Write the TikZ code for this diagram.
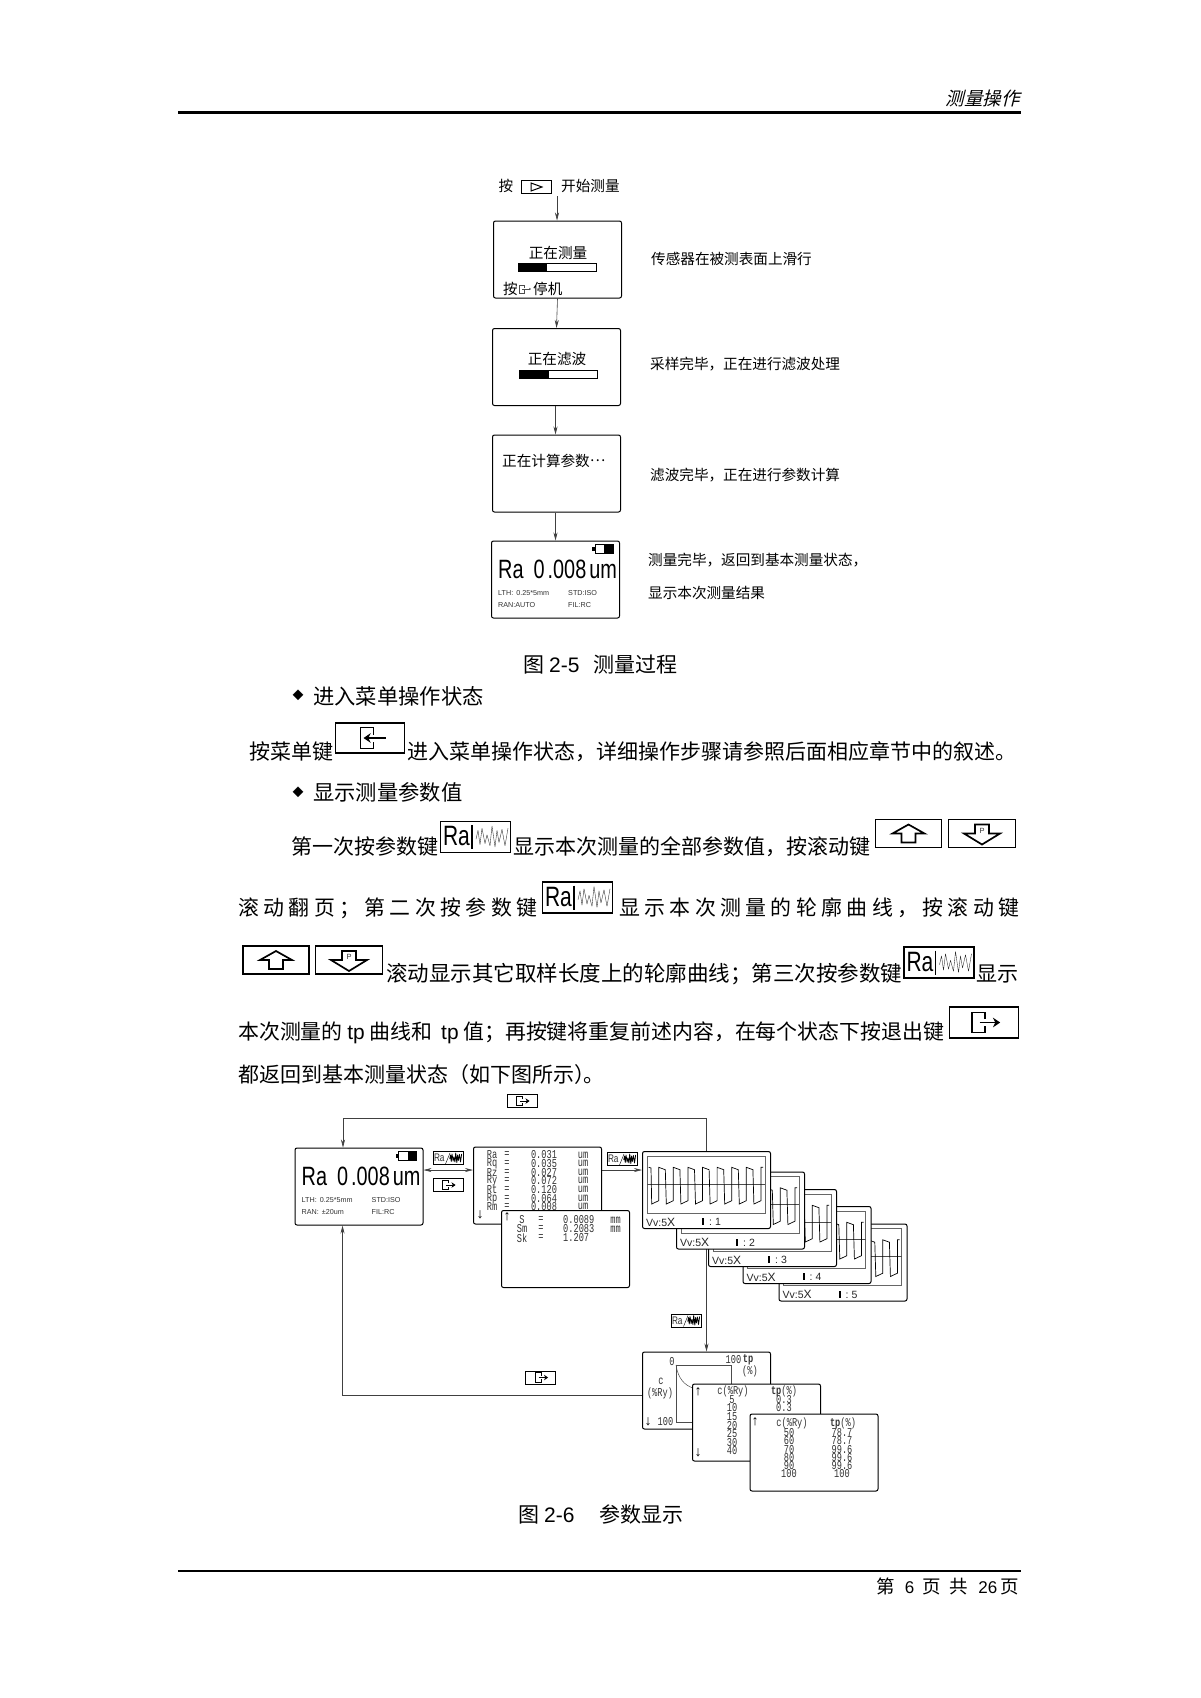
\documentclass[tikz,border=0pt]{standalone}
\usepackage{fontspec}
\setmainfont{Liberation Sans}
\newfontfamily\cjk{Noto Sans CJK SC}
\newfontfamily\cjkslant[FakeSlant=0.25]{Noto Sans CJK SC}
\newfontfamily\latnar[FakeStretch=0.75]{Liberation Sans}
\newfontfamily\mono[FakeStretch=0.72]{Liberation Mono}
\usetikzlibrary{arrows.meta,backgrounds}
\newcommand{\fsz}[1]{\fontsize{#1}{#1}\selectfont}
\newcommand{\ls}[2]{{\addfontfeature{LetterSpace=#1}#2}}

\tikzset{
  screen/.style={draw,line width=1pt,rounded corners=2pt,fill=white,minimum width=128pt,minimum height=77pt,inner sep=0pt},
  bigkey/.style={draw,line width=1.1pt,fill=white,minimum width=69pt,minimum height=30pt,inner sep=0pt},
  smallkey/.style={draw,line width=.9pt,fill=white,minimum width=30pt,minimum height=13pt,inner sep=0pt},
  gauge/.style={draw,line width=.4pt,minimum width=78pt,minimum height=8pt,inner sep=0pt},
  conn/.style={->,line width=.6pt,black!75},
  side/.style={font=\cjk\fsz{14.6},inner sep=0pt,anchor=west},
  midtxt/.style={font=\cjk\fsz{14.6},inner sep=0pt},
  body/.style={font=\cjk\fsz{21},inner sep=0pt,anchor=west},
  lcd/.style={font=\fsz{7.2},inner sep=0pt,anchor=west,text=black!80},
  monotxt/.style={font=\mono\fsz{12},inner sep=0pt,text=black!80},
  arrowtxt/.style={inner sep=0pt,font=\fsz{14}},
  exiticon/.pic={
    \draw (1.5,-3.5) -- (1.5,-10) -- (-11.5,-10) -- (-11.5,10) -- (1.5,10) -- (1.5,3.5);
    \draw[-{Stealth[length=0pt 4.5,width=0pt 6]}] (-4,0) -- (16.5,0);},
  menuicon/.pic={
    \draw (3.5,-3.5) -- (3.5,-10.5) -- (-9.5,-10.5) -- (-9.5,10.5) -- (3.5,10.5) -- (3.5,3.5);
    \draw[-{Stealth[length=0pt 4.5,width=0pt 6]}] (15.5,0) -- (-6.5,0);},
  squiggle/.pic={
    \draw[line join=round] (-16,2) -- (-14,-6) -- (-12,7) -- (-10,-8) -- (-7,6) -- (-5,-2) -- (-2,8)
      -- (0,-10) -- (3,9) -- (5,-6) -- (7,5) -- (10,-7) -- (13,8) -- (16,-8);}
}

%% keys used in the running text and in the chart
\newcommand{\rabig}[2]{%
  \node[bigkey,minimum width=70pt,minimum height=31pt] (#1) at (#2) {};
  \begin{scope}[shift={(#1.center)}]
    \node[inner sep=0pt,font=\latnar\fsz{28}] (#1ra) at (-19,-1) {Ra};
    \draw[line width=1.3pt] (-3.5,-12) -- (-3.5,12);
    \pic[yscale=1.1,line width=.35pt,black!85] at (16.5,0) {squiggle};
  \end{scope}}
\newcommand{\rasmall}[2]{%
  \node[smallkey] (#1) at (#2) {};
  \begin{scope}[shift={(#1.center)}]
    \node[inner sep=0pt,font=\latnar\fsz{11},text=black!80] (#1ra) at (-8.7,0) {Ra};
    \draw[line width=.4pt] (-2.5,6) -- (2,-5);
    \pic[xscale=.37,yscale=.5,line width=.8pt] at (7.7,0) {squiggle};
  \end{scope}}
\newcommand{\exitsmall}[2]{%
  \node[smallkey] (#1) at (#2) {};
  \pic[scale=.46,line width=.9pt] at (#1.center) {exiticon};}
\newcommand{\upkey}[2]{%
  \node[bigkey,minimum width=66pt,minimum height=28pt] (#1) at (#2) {};
  \begin{scope}[shift={(#1.center)}]
    \draw[line width=1.7pt,line join=miter] (0,-9) -- (16,0) -- (7,0) -- (7,9) -- (-7,9) -- (-7,0) -- (-16,0) -- cycle;
  \end{scope}}
\newcommand{\downkey}[2]{%
  \node[bigkey,minimum width=67pt,minimum height=28pt] (#1) at (#2) {};
  \begin{scope}[shift={(#1.center)}]
    \draw[line width=1.7pt,line join=miter] (-7,-9) -- (7,-9) -- (7,0) -- (18,0) -- (0,11) -- (-18,0) -- (-7,0) -- cycle;
    \node[inner sep=0pt,font=\fsz{7.5},text=black!80] (#1p) at (0,-3) {P};
  \end{scope}}
%% the result screen shown twice
\newcommand{\resultscreen}[3]{%
  \node[screen] (#1) at (#2) {};
  \begin{scope}[shift={(#1.north west)}]
    \draw[line width=.6pt] (104,4) rectangle (122,13);
    \fill (113,4) rectangle (122,13);
    \fill (101,6.5) rectangle (104,10.5);
    \node[anchor=base west,inner sep=0pt,font=\latnar\fsz{26.5}] (#1val) at (7,38)
      {Ra\hspace*{10pt}0\hspace*{3pt}.008\hspace*{3pt}um};
    \node[lcd] (#1lth) at (7,52.5) {LTH:\hspace*{3pt}0.25*5mm};
    \node[lcd] (#1std) at (77,52.5) {STD:ISO};
    \node[lcd] (#1ran) at (7,64.5) {#3};
    \node[lcd] (#1fil) at (77,64.5) {FIL:RC};
  \end{scope}}

\begin{document}
\begin{tikzpicture}[x=1pt,y=-1pt,>={Stealth[length=8pt,width=4pt]}]
\useasboundingbox (0,0) rectangle (1200,1698);

%% page head and foot
\node[anchor=east,inner sep=0pt,font=\cjkslant\fsz{18.5}] (headtxt) at (1020,98) {测量操作};
\draw[line width=3pt] (178,112.5) -- (1021,112.5);
\draw[line width=1.2pt] (178,1571) -- (1021,1571);
\node[anchor=east,inner sep=0pt,font=\cjk\fsz{18.5}] (foottxt) at (1019,1586)
  {第\hspace*{10pt}{\rmfamily\fsz{17}6}\hspace*{8pt}页\hspace*{9pt}共\hspace*{10pt}{\rmfamily\fsz{17}26}\hspace*{3pt}页};

%% measuring steps
\node[midtxt] (press) at (506,186) {按};
\node[smallkey,line width=1pt] (playkey) at (536,186.5) {};
\draw[line width=1pt] (531,183) -- (542,187) -- (531,191) -- cycle;
\node[side] (starttxt) at (561,186) {开始测量};
\coordinate (startpt) at (557,196);

\node[screen] (box1) at (557.5,259.5) {};
\node[midtxt] (box1txt) at (558,253) {正在测量};
\node[gauge] (bar1) at (557,267) {};
\fill (bar1.north west) rectangle ++(29,8);
\node[side] (stoptxt) at (503,289) {按};
\pic[scale=.42,line width=.4pt,black!70] at (524,289) {exiticon};
\node[side] (stoptxt2) at (533,289) {停机};
\node[side] (note1) at (651,259) {传感器在被测表面上滑行};

\node[screen] (box2) at (556.5,367) {};
\node[midtxt] (box2txt) at (557,359) {正在滤波};
\node[gauge] (bar2) at (558,374) {};
\fill (bar2.north west) rectangle ++(30,8);
\node[side] (note2) at (650,364) {采样完毕，正在进行滤波处理};

\node[screen] (box3) at (556.5,473.5) {};
\node[side] (box3txt) at (502,461) {正在计算参数\raisebox{.32em}{…}};
\node[side] (note3) at (650,475) {滤波完毕，正在进行参数计算};

\resultscreen{box4}{555.5,579.5}{RAN:AUTO}
\node[side] (note4) at (648,560) {测量完毕，返回到基本测量状态，};
\node[side] (note5) at (648,593) {显示本次测量结果};

\draw[conn] (startpt) -- (startpt |- box1.north);
\draw[conn] (box1.south) -- (box2.north);
\draw[conn] (box4.north |- box2.south) -- (box4.north |- box3.north);
\draw[conn] (box4.north |- box3.south) -- (box4.north);

\node[body] (cap5) at (523,665)
  {图\hspace*{5pt}{\rmfamily 2-5}\hspace*{14pt}测量过程};

%% running text
\node[inner sep=0pt,font=\cjk\fsz{11}] (bul1) at (298,695) {◆};
\node[body,font=\cjk\fsz{21.3}] (line1) at (313,696) {进入菜单操作状态};
\node[body] (line2a) at (249,752) {按菜单键};
\node[bigkey] (menukey) at (370,738) {};
\pic[line width=1.6pt] at (menukey.center) {menuicon};
\node[body] (line2b) at (407.5,752) {进入菜单操作状态，详细操作步骤请参照后面相应章节中的叙述。};
\node[inner sep=0pt,font=\cjk\fsz{11}] (bul2) at (298,792) {◆};
\node[body,font=\cjk\fsz{21.3}] (line3) at (313,792) {显示测量参数值};

\node[body] (line4a) at (291,847) {第一次按参数键};
\rabig{rakey1}{475.5,837}
\node[body] (line4b) at (513,847) {显示本次测量的全部参数值，按滚动键};
\upkey{upkey1}{908.5,833.5}
\downkey{downkey1}{982,833.5}

\node[body,font=\cjk\fsz{20.9}] (line5a) at (238,908) {\ls{21}{滚动翻页；第二次按参数键}};
\rabig{rakey2}{577.5,897.5}
\node[body,font=\cjk\fsz{20.9}] (line5b) at (619,908) {\ls{21}{显示本次测量的轮廓曲线，按滚动键}};

\upkey{upkey2}{276,960}
\downkey{downkey2}{349,960}
\node[body,font=\cjk\fsz{21.5}] (line6a) at (386,974) {滚动显示其它取样长度上的轮廓曲线；第三次按参数键};
\rabig{rakey3}{939,962.5}
\node[body] (line6b) at (976.5,974) {显示};

\node[body,font=\cjk\fsz{20.9}] (line7) at (238,1033) {本次测量的 {\rmfamily tp} 曲线和\hspace*{9pt}{\rmfamily tp} 值；再按键将重复前述内容，在每个状态下按退出键};
\node[bigkey,minimum height=31pt] (exitkey) at (983.7,1022.5) {};
\pic[line width=1.6pt] at (exitkey.center) {exiticon};
\node[body] (line8) at (238,1075) {都返回到基本测量状态（如下图所示）\kern-12pt。};

%% parameter chart
\exitsmall{keytop}{522,1101}
\resultscreen{main}{359,1186.5}{RAN:\hspace*{3pt}±20um}
\rasmall{keyra1}{448,1158}
\exitsmall{keyback}{448,1185}

\node[screen] (par1) at (537.5,1185.5) {};
\foreach \nm/\yy/\val in {Ra/1155/0.031,Rq/1163.3/0.035,Rz/1172.3/0.027,Ry/1180.7/0.072,Rt/1189.3/0.120,Rp/1198.3/0.064,Rm/1206.7/0.008}{
  \node[monotxt] (name\nm) at (492,\yy) {\nm};
  \node[monotxt] (eq\nm) at (507,\yy) {=};
  \node[monotxt] (val\nm) at (544,\yy) {\val};
  \node[monotxt] (unit\nm) at (583,\yy) {um};
}
\node[arrowtxt] (downa) at (480,1215) {↓};

\node[screen] (par2) at (565.5,1249) {};
\node[arrowtxt] (upa) at (507,1217) {↑};
\foreach \nm/\yy/\val/\un in {S/1220/0.0089/mm,Sm/1229/0.2083/mm,Sk/1238/1.207/}{
  \node[monotxt] (name\nm) at (522,\yy) {\nm};
  \node[monotxt] (eq\nm) at (541,\yy) {=};
  \node[monotxt,anchor=west] (val\nm) at (563,\yy) {\val};
  \node[monotxt] (unit\nm) at (615.5,\yy) {\un};
}

\rasmall{keyra2}{622,1159}

%% roughness traces, last one first
\foreach \i/\wx/\wy in {5/843/1262.5,4/807/1245,3/772.5/1228,2/740.5/1210.5,1/706.5/1190}{
  \node[screen] (trace\i) at (\wx,\wy) {};
  \begin{scope}[shift={(trace\i.north west)}]
    \draw[line width=.5pt,black!60] (5,5) rectangle (123,62);
    \draw[line width=.4pt,black!70] (5,33) -- (123,33);
    \draw[line width=.7pt] (6.7,16.3) -- (9,17)
      \foreach \p in {0,...,6}{ -- ({9.7+14.6*\p},53) -- ({16.7+14.6*\p},49.7) -- ({16.7+14.6*\p},16.3) -- ({23.3+14.6*\p},18.7)}
      -- (111.9,53) -- (118.9,49.7) -- (118.9,16.3) -- (121,16.3);
    \node[anchor=west,inner sep=0pt,font=\fsz{10.5},text=black!85] (vv\i) at (4,71) {Vv:5{\fsz{12}X}};
    \fill (60,67) rectangle (62,74);
    \node[anchor=west,inner sep=0pt,font=\fsz{10.5},text=black!85] (ln\i) at (67,71) {:\hspace*{3pt}\i};
  \end{scope}
}

\rasmall{keyra3}{686,1320.5}
\exitsmall{keylow}{540.5,1377.5}

%% tp curve and tables
\node[screen] (tp0) at (706.5,1390.5) {};
\draw[line width=.5pt,black!70] (676,1365) rectangle (731,1422);
\draw[line width=.5pt,black!70] (676,1365) .. controls (678,1378) and (684,1385) .. (693,1388);
\node[monotxt] (tpzero) at (672,1362) {0};
\node[monotxt] (tphund) at (733.5,1360) {100};
\node[monotxt] (tpname) at (748,1360) {\bfseries tp};
\node[monotxt] (tpunit) at (750,1371) {(\%)};
\node[monotxt] (cname) at (661,1381) {c};
\node[monotxt] (cunit) at (660,1393) {(\%Ry)};
\node[arrowtxt] (tpdown) at (648,1422) {↓};
\node[monotxt] (chund) at (665.5,1422) {100};

\node[screen] (tp1) at (756.5,1422.5) {};
\node[arrowtxt] (tp1up) at (698,1392) {↑};
\node[monotxt] (tp1c) at (733,1391) {c(\%Ry)};
\node[monotxt] (tp1t) at (784,1391) {{\bfseries tp}(\%)};
\foreach \cv/\yy in {5/1400,10/1408,15/1417,20/1426,25/1434,30/1443,40/1451}{
  \node[monotxt] (tpc\cv) at (732,\yy) {\cv};
}
\node[monotxt] (tpv1) at (784,1400) {0.3};
\node[monotxt] (tpv2) at (784,1408) {0.3};
\node[arrowtxt] (tp1down) at (698,1453) {↓};

\node[screen] (tp2) at (814,1452.5) {};
\node[arrowtxt] (tp2up) at (755,1422) {↑};
\node[monotxt] (tp2c) at (792,1423) {c(\%Ry)};
\node[monotxt] (tp2t) at (843,1423) {{\bfseries tp}(\%)};
\foreach \cv/\tv/\yy in {50/78.7/1433,60/78.7/1441,70/99.6/1450,80/99.6/1458,90/99.6/1466,100/100/1474}{
  \node[monotxt] (tqc\cv) at (789,\yy) {\cv};
  \node[monotxt] (tqv\cv) at (842,\yy) {\tv};
}

\node[body] (cap6) at (518,1514)
  {图\hspace*{5pt}{\rmfamily 2-6}\hspace*{25pt}参数显示};

%% connectors behind the screens
\coordinate (midline) at (0,1170);
\coordinate (backtop) at (343,1118);
\coordinate (backlow) at (342.5,1395);
\begin{scope}[on background layer]
  \draw[conn] (trace1.north) |- (backtop) -- (backtop |- main.north);
  \draw[conn] (trace1.south) -- (tp0.north);
  \draw[conn] (tp0.west |- backlow) -- (backlow) -- (backlow |- main.south);
  \draw[conn,<->] (main.east |- midline) -- (par1.west |- midline);
  \draw[conn] (par1.east |- midline) -- (trace1.west |- midline);
\end{scope}
\end{tikzpicture}
\end{document}
